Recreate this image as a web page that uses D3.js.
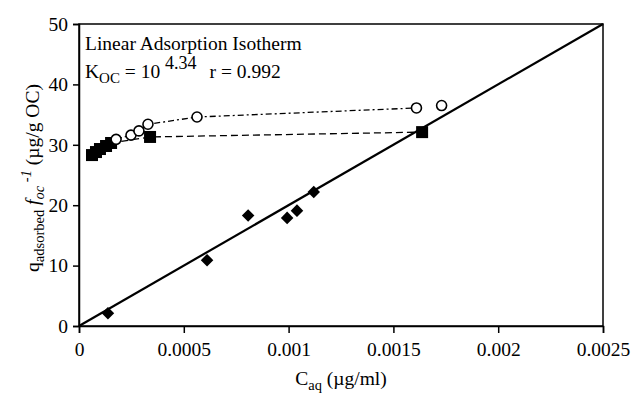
<!DOCTYPE html>
<html>
<head>
<meta charset="utf-8">
<script src="https://cdn.jsdelivr.net/npm/d3@7"></script>
<style>
  body { margin: 0; background: #fff; }
  text { font-family: "Liberation Serif", "Times New Roman", serif; fill: #000; }
</style>
</head>
<body>
<script>
// values
const xTicks = [0, 0.0005, 0.001, 0.0015, 0.002, 0.0025];
const xTickLabels = ["0", "0.0005", "0.001", "0.0015", "0.002", "0.0025"];
const yTicks = [0, 10, 20, 30, 40, 50];

const diamonds = [
    [0.000138, 2.1], [0.000611, 10.9], [0.000807, 18.3],
    [0.000993, 17.9], [0.00104, 19.1], [0.00112, 22.2]
];
const squares = [
    [0.000062, 28.3], [0.000081, 28.8], [0.0001, 29.3], [0.000129, 29.8],
    [0.000153, 30.3], [0.000339, 31.3], [0.001637, 32.1]
];
const circles = [
    [0.000177, 30.9], [0.000248, 31.6], [0.000286, 32.3], [0.000329, 33.4],
    [0.000563, 34.6], [0.00161, 36.1]
];
const circleExtra = [[0.00173, 36.5]];
const fitLine = [[0, 0], [0.0025, 50]];

const width = 631, height = 395;
const margin = {top: 24, right: 28, bottom: 69, left: 79};

const svg = d3.select("body").append("svg")
    .attr("width", width)
    .attr("height", height);

const x = d3.scaleLinear().domain([0, 0.0025]).range([margin.left, width - margin.right]);
const y = d3.scaleLinear().domain([0, 50]).range([height - margin.bottom, margin.top]);

// frame
svg.append("rect")
    .attr("x", x(0)).attr("y", y(50))
    .attr("width", x(0.0025) - x(0)).attr("height", y(0) - y(50))
    .attr("fill", "none").attr("stroke", "#000").attr("stroke-width", 1.5);

const xAxis = svg.append("g")
    .attr("transform", `translate(0,${y(0)})`)
    .call(d3.axisBottom(x).tickValues(xTicks).tickFormat((d, i) => xTickLabels[i]).tickSize(7).tickPadding(9));

const yAxis = svg.append("g")
    .attr("transform", `translate(${x(0)},0)`)
    .call(d3.axisLeft(y).tickValues(yTicks).tickSize(6).tickPadding(5));

[xAxis, yAxis].forEach(a => {
    a.select(".domain").attr("stroke-width", 1.5);
    a.selectAll(".tick line").attr("stroke-width", 1.5);
    a.selectAll(".tick text").style("font-family", '"Liberation Serif", serif').style("font-size", "19.5px");
});

const line = d3.line().x(d => x(d[0])).y(d => y(d[1]));

// regression line
svg.append("path").datum(fitLine)
    .attr("d", line).attr("fill", "none").attr("stroke", "#000").attr("stroke-width", 2.2);

// dashed line through squares
svg.append("path").datum(squares)
    .attr("d", line).attr("fill", "none").attr("stroke", "#000")
    .attr("stroke-width", 1.3).attr("stroke-dasharray", "7,4");

// dash-dot line through circles
svg.append("path").datum(circles)
    .attr("d", line).attr("fill", "none").attr("stroke", "#000")
    .attr("stroke-width", 1.3).attr("stroke-dasharray", "6,3,2,3");

svg.append("g").selectAll("path")
    .data(diamonds)
    .join("path")
    .attr("transform", d => `translate(${x(d[0])},${y(d[1])})`)
    .attr("d", d3.symbol(d3.symbolDiamond2, 100)())
    .attr("fill", "#000");

svg.append("g").selectAll("rect")
    .data(squares)
    .join("rect")
    .attr("x", d => x(d[0]) - 6).attr("y", d => y(d[1]) - 6)
    .attr("width", 12).attr("height", 12)
    .attr("fill", "#000");

svg.append("g").selectAll("circle")
    .data(circles.concat(circleExtra))
    .join("circle")
    .attr("cx", d => x(d[0])).attr("cy", d => y(d[1]))
    .attr("r", 5)
    .attr("fill", "#fff").attr("stroke", "#000").attr("stroke-width", 1.6);

// annotation
svg.append("text").attr("x", 85).attr("y", 50).style("font-size", "19.5px")
    .text("Linear Adsorption Isotherm");

const k = svg.append("text").attr("x", 85).attr("y", 78).style("font-size", "19.5px");
k.append("tspan").text("K");
k.append("tspan").attr("dy", 5).style("font-size", "15px").text("OC");
k.append("tspan").attr("dy", -5).text(" = 10 ");
k.append("tspan").attr("dy", -9).style("font-size", "18px").text("4.34");
k.append("tspan").attr("dy", 9).attr("dx", 13).text("r = 0.992");

// axis titles
const xt = svg.append("text").attr("x", 341).attr("y", 385)
    .attr("text-anchor", "middle").style("font-size", "19.5px");
xt.append("tspan").text("C");
xt.append("tspan").attr("dy", 5).style("font-size", "14.5px").text("aq");
xt.append("tspan").attr("dy", -5).text(" (\u00b5g/ml)");

const yt = svg.append("text")
    .attr("transform", `translate(39,178) rotate(-90)`)
    .attr("text-anchor", "middle").style("font-size", "19.5px");
yt.append("tspan").text("q");
yt.append("tspan").attr("dy", 5).style("font-size", "14.5px").text("adsorbed");
yt.append("tspan").attr("dy", -5).text(" ");
yt.append("tspan").style("font-style", "italic").text("f");
yt.append("tspan").attr("dy", 5).style("font-style", "italic").style("font-size", "14.5px").text("oc");
yt.append("tspan").attr("dy", -13).style("font-style", "italic").style("font-size", "14.5px").text(" -1");
yt.append("tspan").attr("dy", 8).text(" (\u00b5g/g OC)");
</script>
</body>
</html>
